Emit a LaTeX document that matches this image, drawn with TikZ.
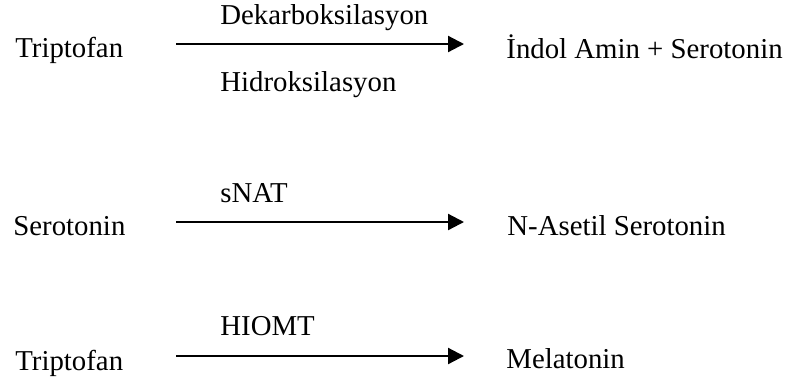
\documentclass[tikz,border=0pt]{standalone}
\usepackage{fontspec}
\setmainfont{Liberation Serif}
\usetikzlibrary{arrows.meta}

\begin{document}
\begin{tikzpicture}[x=0.5pt, y=-0.5pt,
        every node/.style={inner sep=0pt, anchor=base west, font=\fontsize{14.4}{17}\selectfont},
        reaction/.style={-{Triangle[length=8pt, width=8pt]}, line width=1.1pt}]
        \useasboundingbox (0,0) rectangle (790,381);
        % tepkime 1
        \node (trp1) at (15,57) {Triptofan};
        \node (enz1a) at (220,24) {Dekarboksilasyon};
        \node (enz1b) at (220,91) {Hidroksilasyon};
        \node (prod1) at (506,58) {İndol Amin + Serotonin};
        \coordinate (s1) at (176,44);
        \coordinate (e1) at (464,44);
        \draw [reaction] (s1) -- (e1);
        % tepkime 2
        \node (ser2) at (13,235) {Serotonin};
        \node (enz2) at (220,202) {sNAT};
        \node (prod2) at (507,235) {N-Asetil Serotonin};
        \coordinate (s2) at (176,222);
        \coordinate (e2) at (464,222);
        \draw [reaction] (s2) -- (e2);
        % tepkime 3
        \node (trp3) at (15,370) {Triptofan};
        \node (enz3) at (220,335) {HIOMT};
        \node (prod3) at (506,368) {Melatonin};
        \coordinate (s3) at (176,356);
        \coordinate (e3) at (464,356);
        \draw [reaction] (s3) -- (e3);
\end{tikzpicture}
\end{document}
